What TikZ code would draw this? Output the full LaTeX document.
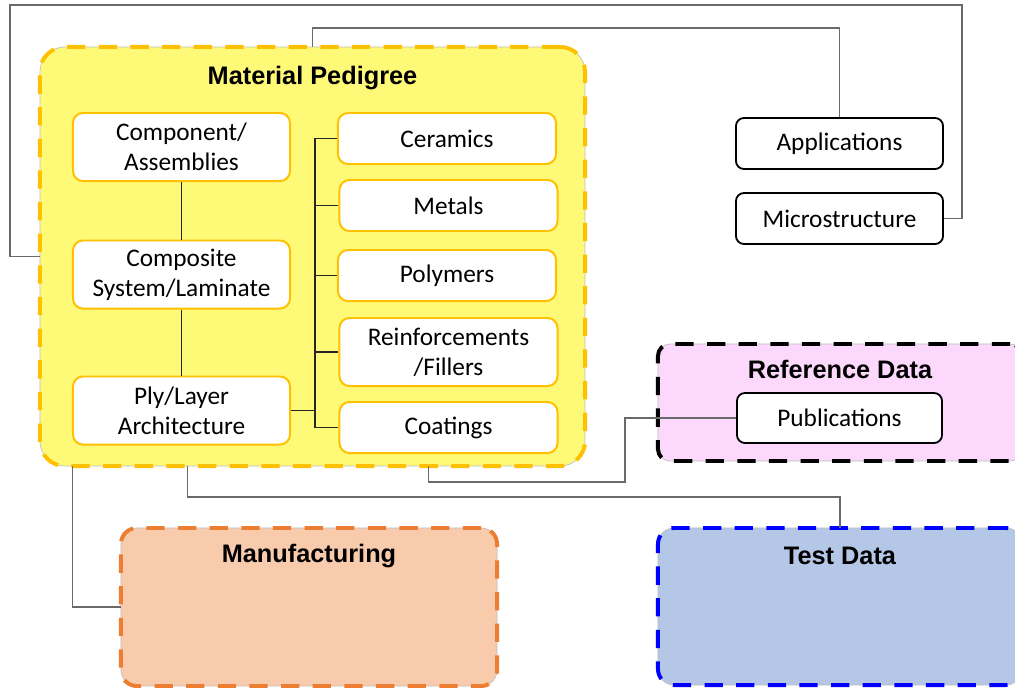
\documentclass[tikz,border=0pt]{standalone}
\usepackage{fontspec}
\setmainfont{Carlito}
\newfontfamily\titlefont{Liberation Sans}
\usetikzlibrary{calc}

\definecolor{pedfill}{HTML}{FFF978}
\definecolor{pedline}{HTML}{FFC000}
\definecolor{reffill}{HTML}{FCD9FC}
\definecolor{manfill}{HTML}{F8CBAD}
\definecolor{manline}{HTML}{ED7D31}
\definecolor{testfill}{HTML}{B4C7E7}
\definecolor{testline}{HTML}{0000FF}
\definecolor{wire}{HTML}{6A6A6A}

\tikzset{
  group/.style={rectangle, draw=black!25, line width=0.5pt, inner sep=0pt},
  groupdash/.style={postaction={draw=#1, line width=2.8pt, dash pattern=on 13pt off 9.5pt}},
  grouptitle/.style={inner sep=0pt, font=\titlefont\bfseries\fontsize{18}{21}\selectfont},
  item/.style={rectangle, rounded corners=0.25cm, fill=white, draw=pedline, line width=1.4pt,
    align=center, inner sep=0pt, font=\fontsize{18}{21.5}\selectfont},
  plainitem/.style={item, draw=black, line width=1.3pt, rounded corners=0.2cm},
  wireline/.style={draw=wire, line width=0.8pt},
  busline/.style={draw=black!85, line width=0.8pt}
}

\begin{document}
\begin{tikzpicture}[x=0.025cm, y=-0.025cm]
\useasboundingbox (0,0) rectangle (1015,687);
\clip (0,0) rectangle (1015,687);

% group containers
\node[group, fill=pedfill, groupdash=pedline, rounded corners=0.625cm,
      minimum width=13.625cm, minimum height=10.475cm] (mp) at (312.5,256.5) {};
\node[grouptitle] (mptitle) at (312.5,78) {Material Pedigree};

\node[group, fill=reffill, groupdash=black, rounded corners=0.3cm,
      minimum width=9.1cm, minimum height=2.925cm] (ref) at (840,402.5) {};
\node[grouptitle] (reftitle) at (840,369) {Reference Data};

\node[group, fill=manfill, groupdash=manline, rounded corners=0.4cm,
      minimum width=9.4cm, minimum height=3.95cm] (manu) at (309,607) {};
\node[grouptitle] (manutitle) at (309,556) {Manufacturing};

\node[group, fill=testfill, groupdash=testline, rounded corners=0.4cm,
      minimum width=9.1cm, minimum height=3.925cm] (td) at (840,606.5) {};
\node[grouptitle] (tdtitle) at (840,556) {Test Data};

% structural levels
\node[item, minimum width=5.425cm, minimum height=1.7cm] (comp) at (181.5,147) {Component/\\Assemblies};
\node[item, minimum width=5.425cm, minimum height=1.7cm] (lam) at (181.5,274.5) {Composite\\System/Laminate};
\node[item, minimum width=5.425cm, minimum height=1.7cm] (ply) at (181.5,410.5) {Ply/Layer\\Architecture};

% constituent materials
\node[item, minimum width=5.45cm, minimum height=1.275cm] (cer) at (447,138.5) {Ceramics};
\node[item, minimum width=5.45cm, minimum height=1.275cm] (met) at (448.5,205.5) {Metals};
\node[item, minimum width=5.45cm, minimum height=1.275cm] (pol) at (447,275.5) {Polymers};
\node[item, minimum width=5.45cm, minimum height=1.7cm] (rein) at (448.5,352) {Reinforcements\\/Fillers};
\node[item, minimum width=5.45cm, minimum height=1.275cm] (coat) at (448.5,427.5) {Coatings};

% outer items
\node[plainitem, minimum width=5.175cm, minimum height=1.275cm] (app) at (839.5,143.5) {Applications};
\node[plainitem, minimum width=5.175cm, minimum height=1.275cm] (micro) at (839.5,218.5) {Microstructure};
\node[plainitem, minimum width=5.125cm, minimum height=1.25cm] (pub) at (839.5,418) {Publications};

% routing points
\coordinate (bus) at (315,0);
\coordinate (nw) at (10,5);
\coordinate (ne) at (962,5);
\coordinate (rail) at (0,28);
\coordinate (pubbend) at (625,482);
\coordinate (tdrail) at (0,497);
\coordinate (m1) at ($(mp.south west)!0.712!(mp.south east)$);
\coordinate (m2) at ($(mp.south west)!0.2716!(mp.south east)$);
\coordinate (m3) at ($(mp.south west)!0.0606!(mp.south east)$);

% connectors inside the pedigree
\draw[busline] (comp.south) -- (lam.north);
\draw[busline] (lam.south) -- (ply.north);
\draw[busline] (ply.east) -- (ply.east -| bus);
\draw[busline] (cer.west) -- (cer.west -| bus) |- (coat.west);
\draw[busline] (met.west) -- (met.west -| bus);
\draw[busline] (pol.west) -- (pol.west -| bus);
\draw[busline] (rein.west) -- (rein.west -| bus);

% connectors to the other groups
\draw[wireline] (mp.west) -| (nw) -- (ne) |- (micro.east);
\draw[wireline] (mp.north) -- (mp.north |- rail) -| (app.north);
\draw[wireline] (m1) |- (pubbend) |- (pub.west);
\draw[wireline] (m2) -- (m2 |- tdrail) -| (td.north);
\draw[wireline] (m3) |- (manu.west);
\end{tikzpicture}
\end{document}
